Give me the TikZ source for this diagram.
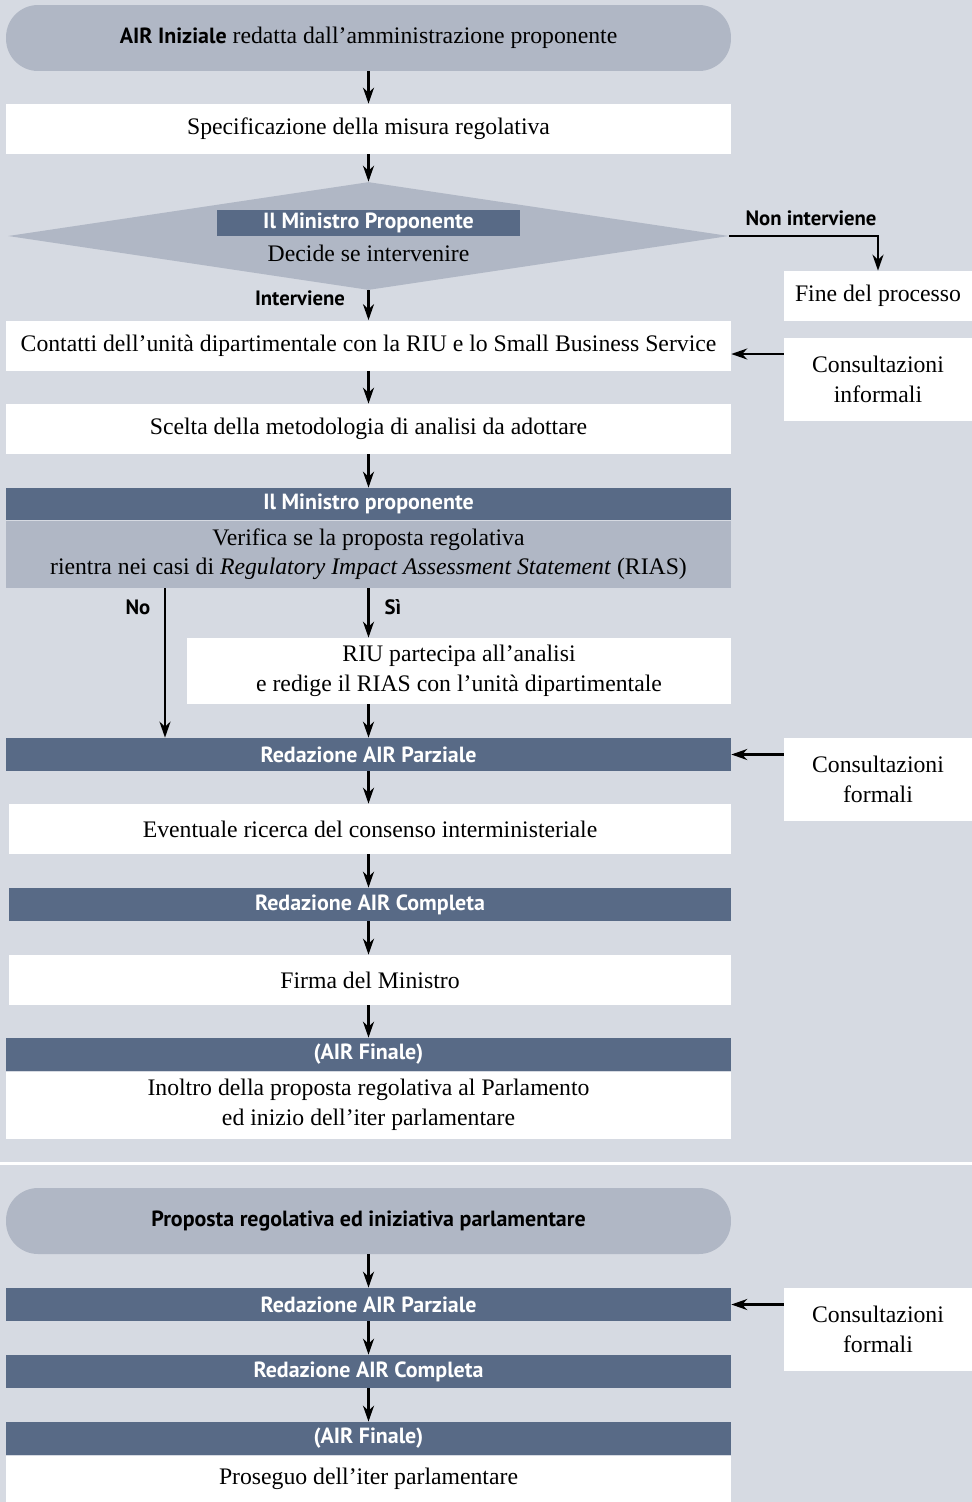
\documentclass[tikz,border=0pt]{standalone}
\usepackage{fontspec}
\setmainfont{Liberation Serif}
\setsansfont{PT Sans}
\usetikzlibrary{shapes.geometric, arrows.meta, positioning}
\definecolor{airbg}{RGB}{214,218,226}
\definecolor{airlight}{RGB}{176,183,197}
\definecolor{airdark}{RGB}{88,106,134}

\begin{document}
\begin{tikzpicture}[
    x=0.02cm, y=-0.02cm,
    every node/.style={font=\fontsize{13.5}{17}\selectfont, inner sep=0pt, align=center},
    pill/.style={rectangle, rounded corners=0.64cm, fill=airlight, minimum width=14.5cm, minimum height=1.32cm},
    plain/.style={rectangle, fill=white, minimum width=14.5cm, minimum height=1cm},
    head/.style={rectangle, fill=airdark, text=white, font=\sffamily\bfseries\fontsize{12.5}{14}\selectfont, minimum width=14.5cm, minimum height=0.66cm},
    side/.style={rectangle, fill=white, minimum width=3.76cm, minimum height=1.66cm},
    lbl/.style={font=\sffamily\bfseries\fontsize{11.8}{13}\selectfont},
    arrow/.style={-{Stealth[length=0.32cm, width=0.22cm]}, line width=0.05cm}
]
    \fill[airbg] (0,0) rectangle (972,1502);
    \useasboundingbox (0,0) rectangle (972,1502);

    % first part
    \node[pill] (ini) at (368.5,38) {{\sffamily\bfseries\fontsize{12.5}{14}\selectfont AIR Iniziale} redatta dall'amministrazione proponente};
    \node[plain] (spec) at (368.5,129) {Specificazione della misura regolativa};
    \node[diamond, fill=airlight, minimum width=14.42cm, minimum height=2.16cm] (dec) at (368.5,236) {};
    \node[head, minimum width=6.06cm, minimum height=0.52cm] (min1) at (368.5,223) {Il Ministro Proponente};
    \node (dectxt) at (368.5,253) {Decide se intervenire};
    \node[side, minimum height=1cm] (fine) at (878,296) {Fine del processo};
    \node[plain] (cont) at (368.5,345.5) {Contatti dell'unità dipartimentale con la RIU e lo Small Business Service};
    \node[side] (inf) at (878,379.5) {Consultazioni\\informali};
    \node[plain] (scel) at (368.5,429) {Scelta della metodologia di analisi da adottare};
    \node[head, minimum height=0.64cm] (min2) at (368.5,504) {Il Ministro proponente};
    \node[rectangle, fill=airlight, minimum width=14.5cm, minimum height=1.34cm, below=0pt of min2] (ver)
        {Verifica se la proposta regolativa\\rientra nei casi di \textit{Regulatory Impact Assessment Statement} (RIAS)};
    \node[plain, minimum width=10.88cm, minimum height=1.32cm] (riu) at (459,671)
        {RIU partecipa all'analisi\\e redige il RIAS con l'unità dipartimentale};
    \node[head] (parz1) at (368.5,754.5) {Redazione AIR Parziale};
    \node[side] (form1) at (878,779.5) {Consultazioni\\formali};
    \node[plain, minimum width=14.44cm] (cons) at (370,829) {Eventuale ricerca del consenso interministeriale};
    \node[head, minimum width=14.44cm] (comp1) at (370,904.5) {Redazione AIR Completa};
    \node[plain, minimum width=14.44cm] (firma) at (370,980) {Firma del Ministro};
    \node[head] (fin1) at (368.5,1054.5) {(AIR Finale)};
    \node[plain, minimum height=1.34cm, below=0pt of fin1] (inol)
        {Inoltro della proposta regolativa al Parlamento\\ed inizio dell'iter parlamentare};

    % labels
    \node[lbl] (nonlbl) at (811,218) {Non interviene};
    \node[lbl] (intlbl) at (300,298) {Interviene};
    \node[lbl] (nolbl) at (138,607) {No};
    \node[lbl] (silbl) at (393,607) {Sì};
    \coordinate (nox) at (165,0);

    \draw[arrow] (ini) -- (spec);
    \draw[arrow] (spec) -- (dec);
    \draw[arrow] (dec) -- (cont);
    \draw[arrow] (dec.east) -| (fine.north);
    \draw[arrow] ([yshift=-0.17cm]inf.west |- cont.east) -- ([yshift=-0.17cm]cont.east);
    \draw[arrow] (cont) -- (scel);
    \draw[arrow] (scel) -- (min2);
    \draw[arrow] (ver.south -| nox) -- (parz1.north -| nox);
    \draw[arrow] (ver.south) -- (riu.north -| ver.south);
    \draw[arrow] (riu.south -| parz1.north) -- (parz1.north);
    \draw[arrow] (form1.west |- parz1.east) -- (parz1.east);
    \draw[arrow] (parz1.south) -- (parz1.south |- cons.north);
    \draw[arrow] (cons.south -| parz1.south) -- (parz1.south |- comp1.north);
    \draw[arrow] (comp1.south -| parz1.south) -- (parz1.south |- firma.north);
    \draw[arrow] (firma.south -| fin1.north) -- (fin1.north);

    % separator
    \draw[white, line width=0.06cm] (0,1163) -- (972,1163);

    % second part
    \node[pill] (prop) at (368.5,1221) {\sffamily\bfseries\fontsize{12.5}{14}\selectfont Proposta regolativa ed iniziativa parlamentare};
    \node[head] (parz2) at (368.5,1304.5) {Redazione AIR Parziale};
    \node[side] (form2) at (878,1329.5) {Consultazioni\\formali};
    \node[head] (comp2) at (368.5,1371.5) {Redazione AIR Completa};
    \node[head] (fin2) at (368.5,1438.5) {(AIR Finale)};
    \node[plain, minimum height=0.94cm, below=0pt of fin2] (pros) {Proseguo dell'iter parlamentare};

    \draw[arrow] (prop) -- (parz2);
    \draw[arrow] (form2.west |- parz2.east) -- (parz2.east);
    \draw[arrow] (parz2) -- (comp2);
    \draw[arrow] (comp2) -- (fin2);
\end{tikzpicture}
\end{document}
